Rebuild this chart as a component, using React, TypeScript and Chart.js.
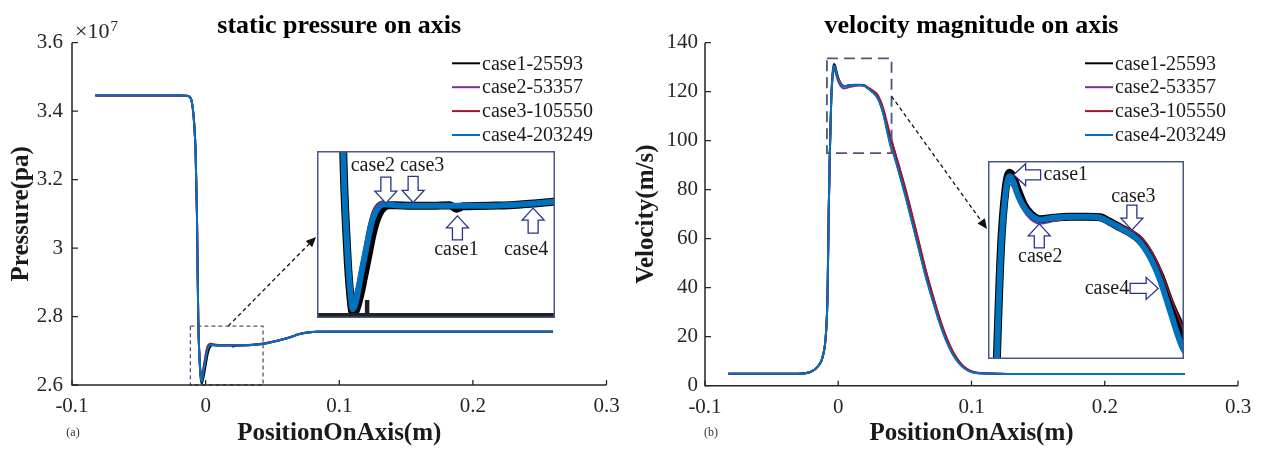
import React, { useEffect, useRef } from 'react';
import { Chart, registerables } from 'chart.js';

Chart.register(...registerables);
Chart.defaults.font.family = "'Liberation Serif', 'Times New Roman', serif";

// ---------------- data ----------------
const caseLabels = ['case1-25593', 'case2-53357', 'case3-105550', 'case4-203249'];
const caseColors = ['#000000', '#7E2F8E', '#A2142F', '#0072BD'];

// static pressure on axis (x10^7 Pa) vs position (m)
const positionP = [-0.0825, -0.05, -0.02, -0.0145, -0.012, -0.0107, -0.0095, -0.0085, -0.0075, -0.0065, -0.0055, -0.0045, -0.0038, -0.0032, -0.0026, -0.002, -0.0012, -0.0004, 0.0004, 0.0012, 0.002, 0.003, 0.004, 0.005, 0.0065, 0.01, 0.015, 0.019, 0.0205, 0.022, 0.03, 0.038, 0.043, 0.05, 0.058, 0.0645, 0.0705, 0.077, 0.083, 0.09, 0.12, 0.26];
const pressureCase1 = [3.446, 3.446, 3.446, 3.445, 3.442, 3.433, 3.405, 3.36, 3.28, 3.1, 2.79, 2.67, 2.624, 2.605, 2.607, 2.615, 2.63, 2.648, 2.666, 2.684, 2.698, 2.709, 2.7145, 2.716, 2.716, 2.7155, 2.7155, 2.7162, 2.7125, 2.715, 2.7158, 2.718, 2.72, 2.7255, 2.7334, 2.741, 2.749, 2.7535, 2.7555, 2.7558, 2.7558, 2.7558];
const pressureCase2 = [3.446, 3.446, 3.446, 3.445, 3.442, 3.433, 3.405, 3.36, 3.28, 3.1, 2.79, 2.676, 2.638, 2.622, 2.628, 2.64, 2.659, 2.678, 2.696, 2.709, 2.716, 2.7195, 2.7205, 2.7195, 2.718, 2.7165, 2.716, 2.716, 2.716, 2.716, 2.7163, 2.7188, 2.7215, 2.7265, 2.734, 2.7415, 2.7495, 2.754, 2.7558, 2.756, 2.756, 2.756];
const pressureCase3 = [3.446, 3.446, 3.446, 3.445, 3.442, 3.433, 3.405, 3.36, 3.28, 3.1, 2.79, 2.675, 2.634, 2.618, 2.625, 2.636, 2.657, 2.676, 2.694, 2.708, 2.715, 2.7192, 2.7202, 2.7192, 2.7178, 2.7163, 2.7158, 2.7158, 2.7158, 2.7158, 2.7161, 2.7186, 2.7212, 2.7262, 2.7338, 2.7413, 2.7493, 2.7538, 2.7557, 2.7559, 2.7559, 2.7559];
const pressureCase4 = [3.446, 3.446, 3.446, 3.445, 3.442, 3.433, 3.405, 3.36, 3.28, 3.1, 2.79, 2.672, 2.628, 2.609, 2.615, 2.628, 2.648, 2.666, 2.684, 2.7, 2.709, 2.7155, 2.7172, 2.717, 2.716, 2.7155, 2.7155, 2.7155, 2.7155, 2.7155, 2.7158, 2.718, 2.72, 2.7255, 2.7334, 2.741, 2.749, 2.7535, 2.7555, 2.7558, 2.7558, 2.7558];

// velocity magnitude on axis (m/s) vs position (m)
const positionV = [-0.0825, -0.05, -0.0305, -0.0205, -0.0155, -0.0117, -0.0092, -0.008, -0.0072, -0.0063, -0.0053, -0.0042, -0.0032, -0.0022, -0.0013, 0.0003, 0.002, 0.0044, 0.0077, 0.0118, 0.016, 0.0192, 0.0217, 0.0242, 0.0266, 0.0291, 0.0316, 0.0341, 0.0365, 0.0394, 0.0415, 0.0458, 0.0508, 0.0558, 0.0608, 0.0658, 0.0708, 0.0758, 0.0808, 0.087, 0.0945, 0.1046, 0.137, 0.26];
const velocityCase1 = [4.9, 4.9, 4.9, 5.7, 7.8, 11.8, 21.5, 38, 70, 95, 116.5, 127.8, 131.3, 130.4, 128.3, 125.2, 123.3, 122.2, 122.5, 122.7, 122.7, 122.6, 121.7, 120.6, 119.6, 118.1, 115.3, 111.2, 106.0, 100.8, 97.0, 88.8, 79.0, 68.3, 57.3, 46.4, 36.6, 27.5, 19.8, 12.6, 7.5, 5.2, 4.8, 4.8];
const velocityCase2 = [4.9, 4.9, 4.9, 5.7, 7.8, 11.8, 21.5, 38, 70, 95, 115.5, 126.2, 129.0, 128.2, 126.3, 123.8, 122.2, 121.3, 121.8, 122.3, 122.5, 122.4, 121.6, 120.6, 119.5, 117.9, 114.9, 110.5, 104.6, 97.8, 94.8, 86.7, 76.8, 66.1, 55.3, 44.5, 35.1, 26.3, 18.8, 12.0, 7.2, 5.1, 4.8, 4.8];
const velocityCase3 = [4.9, 4.9, 4.9, 5.7, 7.8, 11.8, 21.5, 38, 70, 95, 116, 127.2, 130.3, 129.4, 127.4, 124.9, 123.2, 122.3, 122.6, 122.8, 122.8, 122.6, 122.0, 121.1, 120.2, 119.0, 116.5, 112.6, 107.5, 101.4, 97.2, 89.4, 79.7, 69.0, 58.0, 47.0, 37.2, 28.1, 20.3, 13.0, 7.7, 5.3, 4.8, 4.8];
const velocityCase4 = [4.9, 4.9, 4.9, 5.7, 7.8, 11.8, 21.5, 38, 70, 95, 116, 127, 130.6, 129.5, 127.3, 124.7, 123.1, 122.1, 122.5, 122.7, 122.7, 122.5, 121.6, 120.5, 119.4, 117.8, 114.8, 110.3, 104.4, 97.5, 94.6, 86.5, 76.5, 65.8, 55.0, 44.2, 34.8, 26.0, 18.6, 11.8, 7.1, 5.1, 4.8, 4.8];

// axes
const xTicks = [-0.1, 0, 0.1, 0.2, 0.3];
const xTickLabels = ['-0.1', '0', '0.1', '0.2', '0.3'];
const pressureTicks = [2.6, 2.8, 3, 3.2, 3.4, 3.6];
const pressureTickLabels = ['2.6', '2.8', '3', '3.2', '3.4', '3.6'];
const velocityTicks = [0, 20, 40, 60, 80, 100, 120, 140];
const velocityTickLabels = ['0', '20', '40', '60', '80', '100', '120', '140'];

// zoom windows (data units)
const pressureZoomX = [-0.0114, 0.043];
const pressureZoomY = [2.6, 2.772];
const velocityZoomX = [-0.0085, 0.04];
const velocityZoomY = [94.9, 133.6];

// inset annotations (arrow tip in data units)
const pressureNoteText = ['case2', 'case3', 'case1', 'case4'];
const pressureNoteX = [0.00434, 0.01057, 0.0207, 0.038];
const pressureNoteY = [2.7183, 2.719, 2.7052, 2.7132];
const pressureNoteDir = ['down', 'down', 'up', 'up'];
const velocityNoteText = ['case1', 'case3', 'case2', 'case4'];
const velocityNoteX = [-0.00216, 0.0271, 0.00419, 0.0336];
const velocityNoteY = [130.9, 120.1, 121.3, 108.7];
const velocityNoteDir = ['left', 'down', 'up', 'right'];

// ---------------- layout / styles ----------------
const SERIF = "'Liberation Serif', 'Times New Roman', serif";
const AXIS_COLOR = '#262626';

const pressureNoteLayout = [
  { len: 26, dx: -13, dy: -37, align: 'center' },
  { len: 26, dx: 9, dy: -37, align: 'center' },
  { len: 24, dx: -1, dy: 34, align: 'center' },
  { len: 25, dx: -7, dy: 42, align: 'center' },
];
const velocityNoteLayout = [
  { len: 27, dx: 30, dy: 0, align: 'left' },
  { len: 25, dx: 1.5, dy: -33, align: 'center' },
  { len: 24, dx: 1, dy: 33, align: 'center' },
  { len: 28, dx: -29, dy: 0, align: 'right' },
];

function buildDatasets(xs: number[], series: number[][], widths: number[], clip?: number) {
  return series.map((ys, i) => {
    const d: any = {
      label: caseLabels[i],
      data: xs.map((x, k) => ({ x, y: ys[k] })),
      borderColor: caseColors[i],
      backgroundColor: caseColors[i],
      borderWidth: widths[i],
      pointRadius: 0,
      fill: false,
      cubicInterpolationMode: 'monotone',
      order: series.length - 1 - i,
    };
    if (clip !== undefined) d.clip = clip;
    return d;
  });
}

function blockArrow(ctx: CanvasRenderingContext2D, x: number, y: number, dir: string, len: number) {
  const ang: any = { right: 0, down: Math.PI / 2, left: Math.PI, up: -Math.PI / 2 };
  const s = 5, H = 11, h = 12;
  ctx.save();
  ctx.translate(x, y);
  ctx.rotate(ang[dir]);
  ctx.beginPath();
  ctx.moveTo(-len, -s);
  ctx.lineTo(-h, -s);
  ctx.lineTo(-h, -H);
  ctx.lineTo(0, 0);
  ctx.lineTo(-h, H);
  ctx.lineTo(-h, s);
  ctx.lineTo(-len, s);
  ctx.closePath();
  ctx.fillStyle = '#ffffff';
  ctx.fill();
  ctx.lineWidth = 1.3;
  ctx.strokeStyle = '#27338a';
  ctx.stroke();
  ctx.restore();
}

function mainConfig(spec: any) {
  const plugin = {
    id: 'mainDecor',
    afterDraw(chart: any) {
      const { ctx, chartArea: a } = chart;
      const sx = chart.scales.x;
      const sy = chart.scales.y;
      ctx.save();
      // zoom box
      const bx0 = sx.getPixelForValue(spec.zoomX[0]);
      const bx1 = sx.getPixelForValue(spec.zoomX[1]);
      const by0 = sy.getPixelForValue(spec.zoomY[1]);
      const by1 = sy.getPixelForValue(spec.zoomY[0]);
      ctx.setLineDash(spec.boxDash);
      ctx.strokeStyle = '#4a587a';
      ctx.lineWidth = spec.boxWidth;
      ctx.strokeRect(bx0, by0, bx1 - bx0, by1 - by0);
      // dashed pointer arrow
      let ax: number, ay: number;
      if (spec.arrowFrom === 'top') {
        ax = bx0 + spec.arrowFrac * (bx1 - bx0);
        ay = by0;
      } else {
        ax = bx1;
        ay = by0 + spec.arrowFrac * (by1 - by0);
      }
      const [tx, ty] = spec.arrowTo;
      const ang = Math.atan2(ty - ay, tx - ax);
      const hl = 10, hw = 4.5;
      const ex = tx - hl * Math.cos(ang);
      const ey = ty - hl * Math.sin(ang);
      ctx.setLineDash([4, 3]);
      ctx.strokeStyle = '#111';
      ctx.lineWidth = 1.3;
      ctx.beginPath();
      ctx.moveTo(ax, ay);
      ctx.lineTo(ex, ey);
      ctx.stroke();
      ctx.setLineDash([]);
      ctx.beginPath();
      ctx.moveTo(tx, ty);
      ctx.lineTo(ex + hw * Math.sin(ang), ey - hw * Math.cos(ang));
      ctx.lineTo(ex - hw * Math.sin(ang), ey + hw * Math.cos(ang));
      ctx.closePath();
      ctx.fillStyle = '#111';
      ctx.fill();
      // axes lines and inward ticks
      ctx.strokeStyle = AXIS_COLOR;
      ctx.lineWidth = 1.5;
      ctx.beginPath();
      ctx.moveTo(a.left, a.top);
      ctx.lineTo(a.left, a.bottom);
      ctx.lineTo(a.right, a.bottom);
      ctx.stroke();
      ctx.lineWidth = 1.3;
      ctx.beginPath();
      xTicks.forEach((v) => {
        const px = sx.getPixelForValue(v);
        ctx.moveTo(px, a.bottom);
        ctx.lineTo(px, a.bottom - 5);
      });
      spec.yTicks.forEach((v: number) => {
        const py = sy.getPixelForValue(v);
        ctx.moveTo(a.left, py);
        ctx.lineTo(a.left + 6, py);
      });
      ctx.stroke();
      // legend
      ctx.font = `20px ${SERIF}`;
      ctx.textAlign = 'left';
      ctx.textBaseline = 'middle';
      chart.data.datasets.forEach((ds: any, i: number) => {
        const lx = a.left + 380;
        const ly = a.top + 20.6 + i * 23.9;
        ctx.strokeStyle = ds.borderColor;
        ctx.lineWidth = 2;
        ctx.beginPath();
        ctx.moveTo(lx, ly);
        ctx.lineTo(lx + 28, ly);
        ctx.stroke();
        ctx.fillStyle = '#1a1a1a';
        ctx.fillText(ds.label, lx + 30, ly + 1);
      });
      // titles
      ctx.fillStyle = '#000';
      ctx.textAlign = 'center';
      ctx.textBaseline = 'alphabetic';
      ctx.font = `bold 26px ${SERIF}`;
      ctx.fillText(spec.title, (a.left + a.right) / 2, 32.5);
      ctx.font = `bold 25px ${SERIF}`;
      ctx.fillStyle = '#1a1a1a';
      ctx.fillText('PositionOnAxis(m)', (a.left + a.right) / 2, 440);
      ctx.save();
      ctx.translate(spec.yTitleX, (a.top + a.bottom) / 2);
      ctx.rotate(-Math.PI / 2);
      ctx.fillText(spec.yTitle, 0, 0);
      ctx.restore();
      // panel label
      ctx.font = `12px ${SERIF}`;
      ctx.textBaseline = 'middle';
      ctx.fillStyle = '#333';
      ctx.fillText(spec.panel, spec.panelX, 433);
      // exponent
      if (spec.exponent) {
        ctx.textAlign = 'left';
        ctx.textBaseline = 'alphabetic';
        ctx.fillStyle = AXIS_COLOR;
        ctx.font = `22px ${SERIF}`;
        const base = '\u00d710';
        ctx.fillText(base, a.left + 3, 37.5);
        const w = ctx.measureText(base).width;
        ctx.font = `15px ${SERIF}`;
        ctx.fillText('7', a.left + 4 + w, 31);
      }
      ctx.restore();
    },
  };
  const a = spec.area;
  return {
    type: 'line',
    data: { datasets: buildDatasets(spec.xs, spec.series, [2, 2, 2, 2]) },
    options: {
      responsive: false,
      animation: false,
      devicePixelRatio: 1,
      events: [],
      layout: { padding: { left: 0, top: a.top, right: spec.canvasW - a.right, bottom: 0 } },
      plugins: { legend: { display: false }, title: { display: false }, tooltip: { enabled: false } },
      scales: {
        x: {
          type: 'linear',
          min: -0.1,
          max: 0.3,
          afterBuildTicks: (s: any) => {
            s.ticks = xTicks.map((v) => ({ value: v }));
          },
          afterFit: (s: any) => {
            s.height = 452 - a.bottom;
          },
          ticks: {
            callback: (_v: any, i: number) => xTickLabels[i],
            font: { family: SERIF, size: 21 },
            color: AXIS_COLOR,
            padding: 9,
            maxRotation: 0,
            autoSkip: false,
          },
          grid: { display: false, drawTicks: false },
          border: { display: false },
        },
        y: {
          type: 'linear',
          min: spec.yTicks[0],
          max: spec.yTicks[spec.yTicks.length - 1],
          afterBuildTicks: (s: any) => {
            s.ticks = spec.yTicks.map((v: number) => ({ value: v }));
          },
          afterFit: (s: any) => {
            s.width = a.left;
          },
          ticks: {
            callback: (_v: any, i: number) => spec.yLabels[i],
            font: { family: SERIF, size: 21 },
            color: AXIS_COLOR,
            padding: spec.labelPad,
            autoSkip: false,
          },
          grid: { display: false, drawTicks: false },
          border: { display: false },
        },
      },
    },
    plugins: [plugin],
  };
}

function insetConfig(spec: any) {
  const plugin = {
    id: 'insetDecor',
    beforeDraw(chart: any) {
      const { ctx, width, height } = chart;
      ctx.save();
      ctx.fillStyle = '#ffffff';
      ctx.fillRect(0, 0, width, height);
      ctx.restore();
    },
    afterDraw(chart: any) {
      const { ctx, width, height } = chart;
      const sx = chart.scales.x;
      const sy = chart.scales.y;
      ctx.save();
      if (spec.axisValue !== undefined) {
        const yb = sy.getPixelForValue(spec.axisValue);
        ctx.fillStyle = '#222';
        ctx.fillRect(0, yb - 5, width, 5);
        xTicks.forEach((v) => {
          if (v > spec.zoomX[0] && v < spec.zoomX[1]) {
            const px = sx.getPixelForValue(v);
            ctx.fillRect(px - 2, yb - 18, 4.5, 18);
          }
        });
      }
      ctx.strokeStyle = '#4a5785';
      ctx.lineWidth = 1.5;
      ctx.strokeRect(0.75, 0.75, width - 1.5, height - 1.5);
      ctx.font = `20px ${SERIF}`;
      ctx.textBaseline = 'middle';
      ctx.fillStyle = '#1a1a1a';
      spec.noteText.forEach((t: string, i: number) => {
        const px = sx.getPixelForValue(spec.noteX[i]);
        const py = sy.getPixelForValue(spec.noteY[i]);
        const L = spec.noteLayout[i];
        blockArrow(ctx, px, py, spec.noteDir[i], L.len);
        ctx.textAlign = L.align;
        ctx.fillStyle = '#1a1a1a';
        ctx.fillText(t, px + L.dx, py + L.dy);
      });
      ctx.restore();
    },
  };
  return {
    type: 'line',
    data: { datasets: buildDatasets(spec.xs, spec.series, [8, 1.5, 1.5, 6], 0) },
    options: {
      responsive: false,
      animation: false,
      devicePixelRatio: 1,
      events: [],
      layout: { padding: 0 },
      plugins: { legend: { display: false }, title: { display: false }, tooltip: { enabled: false } },
      scales: {
        x: { type: 'linear', min: spec.zoomX[0], max: spec.zoomX[1], display: false },
        y: { type: 'linear', min: spec.zoomY[0], max: spec.zoomY[1], display: false },
      },
    },
    plugins: [plugin],
  };
}

const pressureSpec = {
  xs: positionP,
  series: [pressureCase1, pressureCase2, pressureCase3, pressureCase4],
  yTicks: pressureTicks,
  yLabels: pressureTickLabels,
  canvasW: 631,
  area: { left: 72, right: 606.5, top: 42.7, bottom: 385 },
  labelPad: 9,
  title: 'static pressure on axis',
  yTitle: 'Pressure(pa)',
  yTitleX: 28,
  panel: '(a)',
  panelX: 73,
  exponent: true,
  zoomX: pressureZoomX,
  zoomY: pressureZoomY,
  boxDash: [4, 3],
  boxWidth: 1.3,
  arrowFrom: 'top',
  arrowFrac: 0.52,
  arrowTo: [316, 237],
};

const velocitySpec = {
  xs: positionV,
  series: [velocityCase1, velocityCase2, velocityCase3, velocityCase4],
  yTicks: velocityTicks,
  yLabels: velocityTickLabels,
  canvasW: 632,
  area: { left: 74, right: 607, top: 42.7, bottom: 385.7 },
  labelPad: 7,
  title: 'velocity magnitude on axis',
  yTitle: 'Velocity(m/s)',
  yTitleX: 22,
  panel: '(b)',
  panelX: 80,
  exponent: false,
  zoomX: velocityZoomX,
  zoomY: velocityZoomY,
  boxDash: [11, 6],
  boxWidth: 1.8,
  arrowFrom: 'right',
  arrowFrac: 0.4,
  arrowTo: [356, 229],
};

const pressureInset = {
  xs: positionP,
  series: [pressureCase1, pressureCase2, pressureCase3, pressureCase4],
  zoomX: pressureZoomX,
  zoomY: pressureZoomY,
  axisValue: pressureTicks[0],
  noteText: pressureNoteText,
  noteX: pressureNoteX,
  noteY: pressureNoteY,
  noteDir: pressureNoteDir,
  noteLayout: pressureNoteLayout,
};

const velocityInset = {
  xs: positionV,
  series: [velocityCase1, velocityCase2, velocityCase3, velocityCase4],
  zoomX: velocityZoomX,
  zoomY: velocityZoomY,
  axisValue: undefined,
  noteText: velocityNoteText,
  noteX: velocityNoteX,
  noteY: velocityNoteY,
  noteDir: velocityNoteDir,
  noteLayout: velocityNoteLayout,
};

function ChartCanvas(props: { make: () => any; left: number; top: number; width: number; height: number }) {
  const ref = useRef<HTMLCanvasElement>(null);
  useEffect(() => {
    const chart = new Chart(ref.current as HTMLCanvasElement, props.make());
    return () => chart.destroy();
  }, []);
  return (
    <canvas
      ref={ref}
      width={props.width}
      height={props.height}
      style={{ position: 'absolute', left: props.left, top: props.top, width: props.width, height: props.height }}
    />
  );
}

export default function App() {
  return (
    <div style={{ position: 'absolute', left: 0, top: 0, width: 1263, height: 452, background: '#ffffff', overflow: 'hidden' }}>
      <ChartCanvas make={() => mainConfig(pressureSpec)} left={0} top={0} width={631} height={452} />
      <ChartCanvas make={() => mainConfig(velocitySpec)} left={631} top={0} width={632} height={452} />
      <ChartCanvas make={() => insetConfig(pressureInset)} left={317} top={151} width={238} height={167} />
      <ChartCanvas make={() => insetConfig(velocityInset)} left={988} top={161} width={196} height={198} />
    </div>
  );
}
